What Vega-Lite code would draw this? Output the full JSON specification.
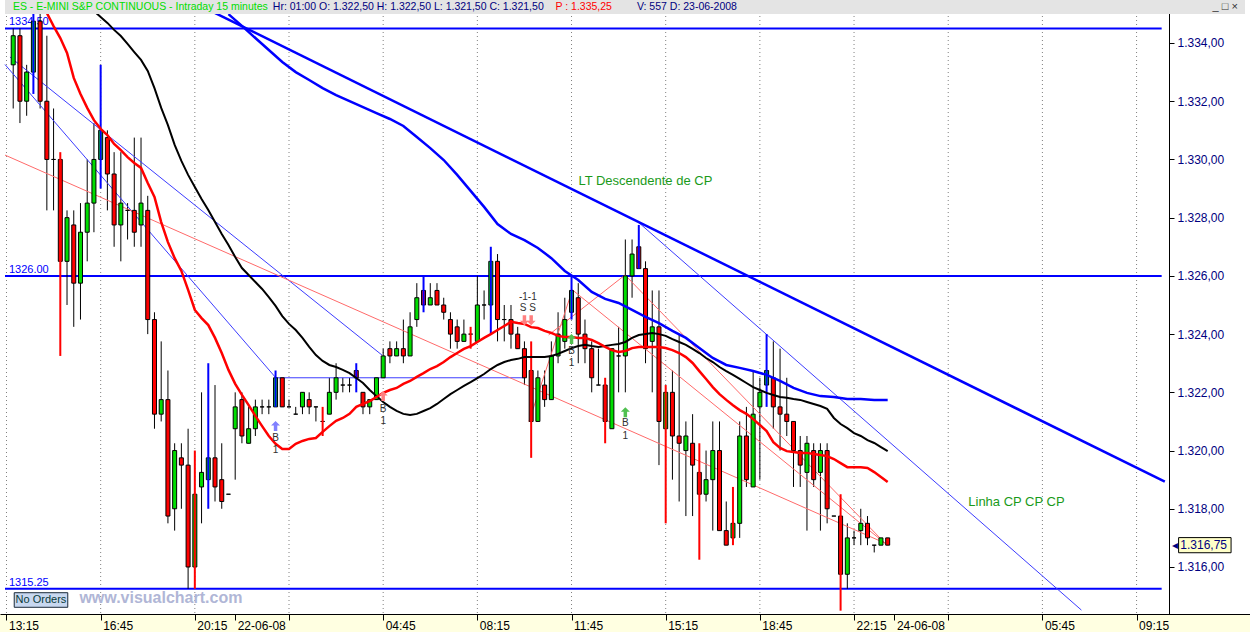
{
"$schema": "https://vega.github.io/schema/vega-lite/v6.json",
"width": 1250,
"height": 614,
"autosize": "none",
"padding": {"left": 0, "top": 0, "right": 0, "bottom": 18},
"background": "#ffffe1",
"config": {"view": {"stroke": null, "fill": "#ffffff"}, "font": "Liberation Sans"},
"resolve": {"axis": {"x": "independent", "y": "independent"}},
"datasets": {
"bars": [
{"i":0,"o":1333.25,"h":1334.5,"l":1331.75,"c":1334.25,"w":"n"},
{"i":1,"o":1334.25,"h":1334.5,"l":1331.25,"c":1332.0,"w":"n"},
{"i":2,"o":1332.0,"h":1333.25,"l":1331.5,"c":1333.0,"w":"n"},
{"i":3,"o":1333.0,"h":1335.25,"l":1332.25,"c":1334.75,"w":"b"},
{"i":4,"o":1334.75,"h":1335.25,"l":1331.75,"c":1332.0,"w":"n"},
{"i":5,"o":1332.0,"h":1334.25,"l":1328.25,"c":1330.0,"w":"n"},
{"i":6,"o":1330.0,"h":1331.75,"l":1328.25,"c":1330.0,"w":"n"},
{"i":7,"o":1330.0,"h":1330.25,"l":1323.25,"c":1326.5,"w":"r"},
{"i":8,"o":1326.5,"h":1328.25,"l":1325.0,"c":1328.0,"w":"n"},
{"i":9,"o":1327.75,"h":1328.25,"l":1324.25,"c":1325.75,"w":"n"},
{"i":10,"o":1325.75,"h":1328.5,"l":1324.5,"c":1327.5,"w":"n"},
{"i":11,"o":1327.5,"h":1330.0,"l":1326.5,"c":1328.5,"w":"n"},
{"i":12,"o":1328.5,"h":1331.25,"l":1327.5,"c":1330.0,"w":"n"},
{"i":13,"o":1330.0,"h":1333.25,"l":1329.0,"c":1331.0,"w":"b"},
{"i":14,"o":1330.75,"h":1331.0,"l":1328.25,"c":1329.5,"w":"n"},
{"i":15,"o":1329.5,"h":1330.25,"l":1327.0,"c":1327.75,"w":"n"},
{"i":16,"o":1327.75,"h":1330.25,"l":1326.5,"c":1328.5,"w":"n"},
{"i":17,"o":1328.25,"h":1328.5,"l":1327.25,"c":1328.25,"w":"n"},
{"i":18,"o":1328.25,"h":1330.75,"l":1327.0,"c":1327.5,"w":"n"},
{"i":19,"o":1327.75,"h":1330.75,"l":1327.0,"c":1328.5,"w":"n"},
{"i":20,"o":1328.25,"h":1328.75,"l":1324.0,"c":1324.5,"w":"n"},
{"i":21,"o":1324.5,"h":1324.75,"l":1320.75,"c":1321.25,"w":"n"},
{"i":22,"o":1321.25,"h":1323.75,"l":1321.0,"c":1321.75,"w":"n"},
{"i":23,"o":1321.75,"h":1322.75,"l":1317.5,"c":1317.75,"w":"n"},
{"i":24,"o":1318.0,"h":1320.25,"l":1317.25,"c":1320.0,"w":"n"},
{"i":25,"o":1319.75,"h":1320.25,"l":1318.0,"c":1319.5,"w":"n"},
{"i":26,"o":1319.5,"h":1320.75,"l":1315.25,"c":1316.0,"w":"n"},
{"i":27,"o":1316.0,"h":1320.0,"l":1315.25,"c":1318.5,"w":"r"},
{"i":28,"o":1318.75,"h":1322.0,"l":1317.5,"c":1319.25,"w":"n"},
{"i":29,"o":1319.0,"h":1323.0,"l":1318.0,"c":1319.75,"w":"b"},
{"i":30,"o":1319.75,"h":1322.25,"l":1318.25,"c":1318.75,"w":"n"},
{"i":31,"o":1319.0,"h":1320.25,"l":1318.0,"c":1318.25,"w":"n"},
{"i":32,"o":1318.5,"h":1318.5,"l":1318.5,"c":1318.5,"w":"n"},
{"i":33,"o":1320.75,"h":1322.0,"l":1319.0,"c":1321.5,"w":"n"},
{"i":34,"o":1321.75,"h":1322.0,"l":1320.25,"c":1320.5,"w":"n"},
{"i":35,"o":1320.25,"h":1321.5,"l":1320.25,"c":1320.75,"w":"n"},
{"i":36,"o":1320.75,"h":1321.75,"l":1320.5,"c":1321.5,"w":"n"},
{"i":37,"o":1321.5,"h":1321.75,"l":1321.25,"c":1321.5,"w":"n"},
{"i":38,"o":1321.5,"h":1321.75,"l":1321.25,"c":1321.5,"w":"n"},
{"i":39,"o":1321.5,"h":1322.75,"l":1321.5,"c":1322.5,"w":"b"},
{"i":40,"o":1322.5,"h":1322.5,"l":1321.5,"c":1321.5,"w":"n"},
{"i":41,"o":1321.5,"h":1321.75,"l":1321.5,"c":1321.5,"w":"n"},
{"i":42,"o":1321.25,"h":1321.5,"l":1321.25,"c":1321.25,"w":"n"},
{"i":43,"o":1321.5,"h":1322.0,"l":1321.25,"c":1322.0,"w":"n"},
{"i":44,"o":1321.75,"h":1322.0,"l":1321.25,"c":1321.5,"w":"n"},
{"i":45,"o":1321.5,"h":1321.5,"l":1321.0,"c":1321.5,"w":"n"},
{"i":46,"o":1321.0,"h":1321.5,"l":1320.5,"c":1321.0,"w":"r"},
{"i":47,"o":1321.25,"h":1322.5,"l":1321.25,"c":1322.0,"w":"n"},
{"i":48,"o":1322.0,"h":1323.0,"l":1321.75,"c":1322.5,"w":"n"},
{"i":49,"o":1322.25,"h":1322.5,"l":1322.0,"c":1322.25,"w":"n"},
{"i":50,"o":1322.25,"h":1322.5,"l":1322.0,"c":1322.25,"w":"n"},
{"i":51,"o":1322.75,"h":1323.0,"l":1322.0,"c":1322.5,"w":"b"},
{"i":52,"o":1322.0,"h":1322.0,"l":1321.25,"c":1321.5,"w":"n"},
{"i":53,"o":1321.5,"h":1321.75,"l":1321.25,"c":1321.75,"w":"n"},
{"i":54,"o":1321.75,"h":1322.5,"l":1321.75,"c":1322.5,"w":"n"},
{"i":55,"o":1322.5,"h":1323.5,"l":1322.5,"c":1323.25,"w":"n"},
{"i":56,"o":1323.5,"h":1323.75,"l":1323.0,"c":1323.25,"w":"n"},
{"i":57,"o":1323.25,"h":1323.75,"l":1323.25,"c":1323.5,"w":"n"},
{"i":58,"o":1323.5,"h":1324.5,"l":1323.0,"c":1323.25,"w":"n"},
{"i":59,"o":1323.25,"h":1324.75,"l":1323.25,"c":1324.25,"w":"n"},
{"i":60,"o":1324.5,"h":1325.75,"l":1324.25,"c":1325.25,"w":"n"},
{"i":61,"o":1325.5,"h":1326.0,"l":1324.75,"c":1325.0,"w":"b"},
{"i":62,"o":1325.0,"h":1325.75,"l":1325.0,"c":1325.25,"w":"n"},
{"i":63,"o":1325.5,"h":1325.75,"l":1325.0,"c":1325.0,"w":"n"},
{"i":64,"o":1325.0,"h":1325.25,"l":1324.5,"c":1324.75,"w":"n"},
{"i":65,"o":1324.5,"h":1324.75,"l":1323.5,"c":1324.0,"w":"n"},
{"i":66,"o":1324.25,"h":1324.5,"l":1323.5,"c":1323.75,"w":"n"},
{"i":67,"o":1323.75,"h":1324.5,"l":1323.75,"c":1324.0,"w":"n"},
{"i":68,"o":1324.0,"h":1324.25,"l":1323.5,"c":1324.0,"w":"r"},
{"i":69,"o":1323.75,"h":1326.0,"l":1323.75,"c":1325.0,"w":"n"},
{"i":70,"o":1325.0,"h":1325.5,"l":1324.5,"c":1325.0,"w":"n"},
{"i":71,"o":1325.0,"h":1327.0,"l":1324.0,"c":1326.5,"w":"b"},
{"i":72,"o":1326.5,"h":1326.75,"l":1323.75,"c":1324.5,"w":"n"},
{"i":73,"o":1324.5,"h":1325.0,"l":1323.75,"c":1324.5,"w":"n"},
{"i":74,"o":1324.5,"h":1325.0,"l":1323.5,"c":1324.0,"w":"n"},
{"i":75,"o":1324.0,"h":1324.25,"l":1323.5,"c":1323.5,"w":"n"},
{"i":76,"o":1323.5,"h":1323.75,"l":1322.25,"c":1322.5,"w":"n"},
{"i":77,"o":1322.75,"h":1323.75,"l":1319.75,"c":1321.0,"w":"r"},
{"i":78,"o":1321.0,"h":1322.75,"l":1321.0,"c":1322.5,"w":"n"},
{"i":79,"o":1322.25,"h":1322.75,"l":1321.5,"c":1321.75,"w":"n"},
{"i":80,"o":1321.75,"h":1323.75,"l":1321.75,"c":1323.25,"w":"n"},
{"i":81,"o":1323.25,"h":1324.75,"l":1323.0,"c":1324.0,"w":"n"},
{"i":82,"o":1323.75,"h":1325.25,"l":1323.5,"c":1324.5,"w":"n"},
{"i":83,"o":1324.75,"h":1326.0,"l":1324.5,"c":1325.5,"w":"b"},
{"i":84,"o":1325.25,"h":1325.75,"l":1323.0,"c":1324.0,"w":"n"},
{"i":85,"o":1324.0,"h":1324.5,"l":1323.0,"c":1323.5,"w":"n"},
{"i":86,"o":1323.5,"h":1323.75,"l":1322.0,"c":1322.5,"w":"n"},
{"i":87,"o":1322.25,"h":1323.5,"l":1322.25,"c":1322.25,"w":"n"},
{"i":88,"o":1322.25,"h":1322.5,"l":1320.25,"c":1321.0,"w":"r"},
{"i":89,"o":1320.75,"h":1323.5,"l":1320.75,"c":1323.5,"w":"n"},
{"i":90,"o":1323.25,"h":1324.25,"l":1322.0,"c":1323.25,"w":"n"},
{"i":91,"o":1323.25,"h":1327.25,"l":1322.0,"c":1326.0,"w":"n"},
{"i":92,"o":1326.0,"h":1327.25,"l":1325.25,"c":1326.75,"w":"n"},
{"i":93,"o":1327.0,"h":1327.75,"l":1326.25,"c":1326.25,"w":"b"},
{"i":94,"o":1326.25,"h":1326.5,"l":1323.0,"c":1323.5,"w":"n"},
{"i":95,"o":1323.75,"h":1325.5,"l":1322.0,"c":1324.25,"w":"n"},
{"i":96,"o":1324.25,"h":1325.5,"l":1319.5,"c":1321.0,"w":"n"},
{"i":97,"o":1320.75,"h":1322.25,"l":1317.5,"c":1322.0,"w":"r"},
{"i":98,"o":1322.0,"h":1322.75,"l":1319.0,"c":1320.5,"w":"n"},
{"i":99,"o":1320.5,"h":1324.0,"l":1318.25,"c":1320.25,"w":"n"},
{"i":100,"o":1320.0,"h":1321.0,"l":1317.75,"c":1320.5,"w":"n"},
{"i":101,"o":1320.25,"h":1321.25,"l":1317.75,"c":1319.5,"w":"n"},
{"i":102,"o":1319.25,"h":1320.25,"l":1316.25,"c":1318.5,"w":"r"},
{"i":103,"o":1318.5,"h":1320.0,"l":1318.25,"c":1319.0,"w":"n"},
{"i":104,"o":1319.0,"h":1321.0,"l":1317.25,"c":1320.0,"w":"n"},
{"i":105,"o":1320.0,"h":1321.0,"l":1317.25,"c":1317.25,"w":"n"},
{"i":106,"o":1317.25,"h":1318.25,"l":1316.75,"c":1316.75,"w":"n"},
{"i":107,"o":1317.0,"h":1318.75,"l":1316.75,"c":1317.5,"w":"r"},
{"i":108,"o":1317.5,"h":1321.0,"l":1317.0,"c":1320.5,"w":"n"},
{"i":109,"o":1320.5,"h":1321.5,"l":1318.75,"c":1319.0,"w":"n"},
{"i":110,"o":1318.75,"h":1322.75,"l":1318.75,"c":1321.25,"w":"n"},
{"i":111,"o":1321.5,"h":1322.5,"l":1319.0,"c":1322.0,"w":"n"},
{"i":112,"o":1322.25,"h":1324.0,"l":1321.5,"c":1322.75,"w":"b"},
{"i":113,"o":1322.5,"h":1323.75,"l":1320.75,"c":1321.5,"w":"n"},
{"i":114,"o":1321.5,"h":1323.5,"l":1320.0,"c":1321.25,"w":"n"},
{"i":115,"o":1321.25,"h":1322.5,"l":1320.5,"c":1321.0,"w":"n"},
{"i":116,"o":1321.0,"h":1321.0,"l":1318.75,"c":1320.0,"w":"n"},
{"i":117,"o":1320.0,"h":1320.5,"l":1318.75,"c":1319.5,"w":"n"},
{"i":118,"o":1319.25,"h":1320.5,"l":1317.25,"c":1320.25,"w":"n"},
{"i":119,"o":1320.0,"h":1320.25,"l":1318.75,"c":1319.0,"w":"n"},
{"i":120,"o":1319.25,"h":1320.25,"l":1317.25,"c":1320.0,"w":"n"},
{"i":121,"o":1320.0,"h":1320.25,"l":1317.5,"c":1318.0,"w":"n"},
{"i":122,"o":1317.75,"h":1317.75,"l":1317.75,"c":1317.75,"w":"n"},
{"i":123,"o":1317.75,"h":1318.5,"l":1314.5,"c":1315.75,"w":"r"},
{"i":124,"o":1315.75,"h":1317.5,"l":1315.25,"c":1317.0,"w":"n"},
{"i":125,"o":1317.0,"h":1317.25,"l":1316.75,"c":1317.0,"w":"n"},
{"i":126,"o":1317.25,"h":1318.0,"l":1316.75,"c":1317.5,"w":"n"},
{"i":127,"o":1317.5,"h":1317.75,"l":1316.75,"c":1317.0,"w":"n"},
{"i":128,"o":1316.75,"h":1316.75,"l":1316.5,"c":1316.75,"w":"n"},
{"i":129,"o":1316.75,"h":1317.0,"l":1316.75,"c":1317.0,"w":"n"},
{"i":130,"o":1317.0,"h":1317.0,"l":1316.75,"c":1316.75,"w":"n"}
],
"ma": [
{"i":5,"r":1335.03},{"i":6,"r":1334.58},{"i":7,"r":1334.17},{"i":8,"r":1333.66},{"i":9,"r":1332.8},{"i":10,"r":1332.25},
{"i":11,"r":1331.77},{"i":12,"r":1331.35,"k":1335.1},{"i":13,"r":1331.05,"k":1334.89},{"i":14,"r":1330.84,"k":1334.69},
{"i":15,"r":1330.53,"k":1334.45},{"i":16,"r":1330.32,"k":1334.24},{"i":17,"r":1330.08,"k":1333.97},{"i":18,"r":1329.88,"k":1333.69},
{"i":19,"r":1329.71,"k":1333.42},{"i":20,"r":1329.19,"k":1333.04},{"i":21,"r":1328.71,"k":1332.45},{"i":22,"r":1327.85,"k":1331.77},
{"i":23,"r":1327.16,"k":1331.18},{"i":24,"r":1326.61,"k":1330.5},{"i":25,"r":1326.17,"k":1329.95},{"i":26,"r":1325.52,"k":1329.47},
{"i":27,"r":1324.83,"k":1329.05},{"i":28,"r":1324.55,"k":1328.64},{"i":29,"r":1324.31,"k":1328.26},{"i":30,"r":1323.87,"k":1327.85},
{"i":31,"r":1323.35,"k":1327.44},{"i":32,"r":1322.77,"k":1327.06,"b":1334.99},{"i":33,"r":1322.29,"k":1326.65},
{"i":34,"r":1321.91,"k":1326.27,"b":1334.59},{"i":35,"r":1321.56,"k":1326.03},{"i":36,"r":1321.19,"k":1325.79,"b":1334.17},
{"i":37,"r":1320.84,"k":1325.55},{"i":38,"r":1320.5,"k":1325.27,"b":1333.76},{"i":39,"r":1320.23,"k":1324.97},
{"i":40,"r":1320.05,"k":1324.62,"b":1333.35},{"i":41,"r":1320.05,"k":1324.35},{"i":42,"r":1320.23,"k":1324.14,"b":1333.0},
{"i":43,"r":1320.33,"k":1323.87},{"i":44,"r":1320.4,"k":1323.56,"b":1332.73},{"i":45,"r":1320.43,"k":1323.28},
{"i":46,"r":1320.64,"k":1323.08,"b":1332.45},{"i":47,"r":1320.84,"k":1322.94},{"i":48,"r":1321.02,"k":1322.87,"b":1332.21},
{"i":49,"r":1321.12,"k":1322.77},{"i":50,"r":1321.26,"k":1322.66,"b":1332.0},{"i":51,"r":1321.5,"k":1322.49},
{"i":52,"r":1321.6,"k":1322.32,"b":1331.8},{"i":53,"r":1321.7,"k":1322.08},{"i":54,"r":1321.84,"k":1321.87,"b":1331.59},
{"i":55,"r":1321.98,"k":1321.67},{"i":56,"r":1322.08,"k":1321.5,"b":1331.39},{"i":57,"r":1322.15,"k":1321.36},
{"i":58,"r":1322.29,"k":1321.26,"b":1331.15},{"i":59,"r":1322.39,"k":1321.22},{"i":60,"r":1322.53,"k":1321.26,"b":1330.77},
{"i":61,"r":1322.66,"k":1321.36},{"i":62,"r":1322.8,"k":1321.46,"b":1330.39},{"i":63,"r":1322.9,"k":1321.6},
{"i":64,"r":1323.04,"k":1321.77,"b":1329.98},{"i":65,"r":1323.21,"k":1321.94},{"i":66,"r":1323.35,"k":1322.08,"b":1329.47},
{"i":67,"r":1323.49,"k":1322.22},{"i":68,"r":1323.59,"k":1322.35,"b":1328.92},{"i":69,"r":1323.73,"k":1322.49},
{"i":70,"r":1323.87,"k":1322.63,"b":1328.37},{"i":71,"r":1324.0,"k":1322.8},{"i":72,"r":1324.14,"k":1322.94,"b":1327.78},
{"i":73,"r":1324.28,"k":1323.04},{"i":74,"r":1324.42,"k":1323.11,"b":1327.44},{"i":75,"r":1324.38,"k":1323.15},
{"i":76,"r":1324.35,"k":1323.21,"b":1327.23},{"i":77,"r":1324.24,"k":1323.21},{"i":78,"r":1324.21,"k":1323.21,"b":1326.96},
{"i":79,"r":1324.11,"k":1323.21},{"i":80,"r":1324.04,"k":1323.25,"b":1326.61},{"i":81,"r":1323.94,"k":1323.32},
{"i":82,"r":1323.9,"k":1323.42,"b":1326.17},{"i":83,"r":1323.9,"k":1323.52},{"i":84,"r":1323.87,"k":1323.59,"b":1325.86},
{"i":85,"r":1323.87,"k":1323.63},{"i":86,"r":1323.8,"k":1323.59,"b":1325.45},{"i":87,"r":1323.69,"k":1323.56},
{"i":88,"r":1323.56,"k":1323.59,"b":1325.21},{"i":89,"r":1323.45,"k":1323.63},{"i":90,"r":1323.39,"k":1323.66,"b":1325.07},
{"i":91,"r":1323.42,"k":1323.73},{"i":92,"r":1323.52,"k":1323.87,"b":1324.83},{"i":93,"r":1323.56,"k":1323.97},
{"i":94,"r":1323.56,"k":1324.0,"b":1324.59},{"i":95,"r":1323.56,"k":1324.04},{"i":96,"r":1323.56,"k":1324.0,"b":1324.38},
{"i":97,"r":1323.52,"k":1323.94},{"i":98,"r":1323.45,"k":1323.83,"b":1324.11},{"i":99,"r":1323.35,"k":1323.73},
{"i":100,"r":1323.21,"k":1323.63,"b":1323.87},{"i":101,"r":1323.01,"k":1323.49},{"i":102,"r":1322.73,"k":1323.35,"b":1323.52},
{"i":103,"r":1322.46,"k":1323.18},{"i":104,"r":1322.18,"k":1323.04,"b":1323.18},{"i":105,"r":1321.94,"k":1322.87},
{"i":106,"r":1321.74,"k":1322.73,"b":1322.94},{"i":107,"r":1321.56,"k":1322.6},{"i":108,"r":1321.39,"k":1322.46,"b":1322.84},
{"i":109,"r":1321.26,"k":1322.32},{"i":110,"r":1321.08,"k":1322.18,"b":1322.73},{"i":111,"r":1320.88,"k":1322.08},
{"i":112,"r":1320.67,"k":1321.98,"b":1322.6},{"i":113,"r":1320.29,"k":1321.91},{"i":114,"r":1320.09,"k":1321.84,"b":1322.39},
{"i":115,"r":1319.98,"k":1321.81},{"i":116,"r":1319.95,"k":1321.77,"b":1322.15},{"i":117,"r":1319.92,"k":1321.74},
{"i":118,"r":1319.92,"k":1321.67,"b":1321.98},{"i":119,"r":1319.88,"k":1321.6},{"i":120,"r":1319.85,"k":1321.53,"b":1321.87},
{"i":121,"r":1319.81,"k":1321.43},{"i":122,"r":1319.71,"k":1321.12,"b":1321.84},{"i":123,"r":1319.57,"k":1320.91},
{"i":124,"r":1319.43,"k":1320.77,"b":1321.77},{"i":125,"r":1319.43,"k":1320.6},{"i":126,"r":1319.43,"k":1320.5,"b":1321.77},
{"i":127,"r":1319.4,"k":1320.36},{"i":128,"r":1319.26,"k":1320.26,"b":1321.74},{"i":129,"r":1319.09,"k":1320.12},
{"i":130,"r":1318.92,"k":1319.98,"b":1321.74}
],
"lines": [
{"id":"lt","i":28,"p":1335.26},{"id":"lt","i":171.2,"p":1318.93},
{"id":"ta","i":-0.48,"p":1333.52},{"id":"ta","i":54.82,"p":1323.28},
{"id":"tb","i":-1.22,"p":1333.26},{"id":"tb","i":39.04,"p":1322.5},{"id":"tb","i":75.9,"p":1322.5},
{"id":"tc","i":93,"p":1327.83},{"id":"tc","i":158.8,"p":1314.52},
{"id":"p1","i":-1.22,"p":1330.15},{"id":"p1","i":129.6,"p":1316.82},
{"id":"p2","i":90.95,"p":1326.03},{"id":"p2","i":129.6,"p":1316.82},
{"id":"p3","i":83.13,"p":1325.52},{"id":"p3","i":129.6,"p":1316.82},
{"id":"p4","i":76.65,"p":1320.98},{"id":"p4","i":83.13,"p":1325.52},
{"id":"p5","i":79.6,"p":1323.97},{"id":"p5","i":90.95,"p":1326.03}
],
"ticks": [{"i":-1},{"i":13},{"i":27},{"i":41},{"i":55},{"i":69},{"i":83},{"i":97},{"i":111},{"i":125},{"i":139},{"i":153},{"i":167}],
"levels": [
{"p":1334.5,"t":"1334.50"},{"p":1326.0,"t":"1326.00"},{"p":1315.25,"t":"1315.25"}
],
"arrows": [
{"i":39,"p":1320.84,"d":"up","k":"blue"},
{"i":55,"p":1321.87,"d":"up","k":"pink"},
{"i":83,"p":1323.83,"d":"up","k":"green"},
{"i":91,"p":1321.32,"d":"up","k":"green"},
{"i":76,"p":1324.48,"d":"down","k":"pink"},
{"i":77,"p":1324.48,"d":"down","k":"pink"}
],
"notes": [
{"k":"hg","t":"ES - E-MINI S&P CONTINUOUS - Intraday 15 minutes","i":-0.04,"p":1335.24},
{"k":"hn","t":"Hr: 01:00 O: 1.322,50 H: 1.322,50 L: 1.321,50 C: 1.321,50","i":38.6,"p":1335.24},
{"k":"hr","t":"P : 1.335,25","i":80.62,"p":1335.24},
{"k":"hn","t":"V: 557 D: 23-06-2008","i":92.72,"p":1335.24},
{"k":"win","t":"_ □ ×","i":178.3,"p":1335.24},
{"k":"lab","t":"LT Descendente de CP","i":84.02,"p":1329.26},
{"k":"lab","t":"Linha CP CP CP","i":141.98,"p":1318.23},
{"k":"sig","t":"B","i":39,"p":1320.44},{"k":"sig","t":"1","i":39,"p":1320.02},
{"k":"sig","t":"B","i":55,"p":1321.42},{"k":"sig","t":"1","i":55,"p":1321.03},
{"k":"sig","t":"B","i":83,"p":1323.43},{"k":"sig","t":"1","i":83,"p":1323.02},
{"k":"sig","t":"B","i":91,"p":1320.96},{"k":"sig","t":"1","i":91,"p":1320.5},
{"k":"sig","t":"-1-1","i":76.5,"p":1325.29},{"k":"sig","t":"S S","i":76.5,"p":1324.89},
{"k":"no","t":"No Orders","i":4.13,"p":1314.866},
{"k":"wm","t":"www.visualchart.com","i":9.84,"p":1314.92},
{"k":"px","t":"1.316,75","i":173.5,"p":1316.75},
{"k":"pxa","t":"◂","i":172.3,"p":1316.75}
],
"boxes": [
{"k":"hdr","i":-1.221,"i2":183.12,"p":1335.0,"p2":1335.477},
{"k":"no","i":0.15,"i2":8.11,"p":1315.117,"p2":1314.616},
{"k":"px","i":173.25,"i2":181.05,"p":1317.01,"p2":1316.49}
]
},
"layer": [
{
"data": {"name": "ticks"},
"mark": {"type": "rule", "color": "#808080", "strokeWidth": 1, "strokeDash": [1, 3]},
"encoding": {
"x": {"field": "i", "type": "quantitative", "scale": {"domain": [-1.221, 183.12], "nice": false, "zero": false},
"axis": {"orient": "bottom", "title": null, "grid": false, "values": [-1,13,27,33,41,55,69,83,97,111,125,131,139,153,167],
"labelExpr": "datum.value == -1 ? '13:15' : datum.value == 13 ? '16:45' : datum.value == 27 ? '20:15' : datum.value == 33 ? '22-06-08' : datum.value == 55 ? '04:45' : datum.value == 69 ? '08:15' : datum.value == 83 ? '11:45' : datum.value == 97 ? '15:15' : datum.value == 111 ? '18:45' : datum.value == 125 ? '22:15' : datum.value == 131 ? '24-06-08' : datum.value == 153 ? '05:45' : datum.value == 167 ? '09:15' : ''",
"labelAlign": "left", "labelOffset": 2, "labelPadding": 0, "labelFontSize": 12, "labelColor": "#000000",
"labelOverlap": false, "labelBound": false, "labelFlush": false,
"tickSize": 6, "tickColor": "#000000", "domainColor": "#000000"}}
}
},
{
"data": {"name": "levels"},
"mark": {"type": "rule", "color": "#0000ff", "strokeWidth": 2},
"encoding": {
"x": {"datum": -1.221, "type": "quantitative", "scale": {"domain": [-1.221, 183.12], "nice": false, "zero": false}, "axis": null},
"x2": {"datum": 170.73},
"y": {"field": "p", "type": "quantitative", "scale": {"domain": [1314.3855, 1335.477], "nice": false, "zero": false},
"axis": {"orient": "right", "offset": -81, "title": null, "grid": false, "values": [1316,1318,1320,1322,1324,1326,1328,1330,1332,1334],
"labelExpr": "replace(replace(replace(format(datum.value, ',.2f'), ',', '#'), '.', ','), '#', '.')",
"labelFontSize": 12, "labelColor": "#000080", "labelPadding": 3,
"tickSize": 5, "tickColor": "#000000", "domainColor": "#000000", "labelOverlap": false}}
}
},
{
"data": {"name": "levels"},
"mark": {"type": "text", "align": "left", "baseline": "alphabetic", "dy": -3, "fontSize": 11, "color": "#0000ff"},
"encoding": {
"x": {"datum": -0.63, "type": "quantitative", "scale": {"domain": [-1.221, 183.12], "nice": false, "zero": false}, "axis": null},
"y": {"field": "p", "type": "quantitative", "scale": {"domain": [1314.3855, 1335.477], "nice": false, "zero": false}, "axis": null},
"text": {"field": "t"}
}
},
{
"data": {"name": "bars"},
"transform": [{"filter": "datum.w == 'n'"}],
"mark": {"type": "rule", "color": "#000000", "strokeWidth": 1},
"encoding": {
"x": {"field": "i", "type": "quantitative", "scale": {"domain": [-1.221, 183.12], "nice": false, "zero": false}, "axis": null},
"y": {"field": "l", "type": "quantitative", "scale": {"domain": [1314.3855, 1335.477], "nice": false, "zero": false}, "axis": null},
"y2": {"field": "h"}
}
},
{
"data": {"name": "lines"},
"transform": [{"filter": "datum.id == 'ta' || datum.id == 'tb' || datum.id == 'tc'"}],
"mark": {"type": "line", "color": "#3c3cff", "strokeWidth": 1, "clip": true},
"encoding": {
"x": {"field": "i", "type": "quantitative", "scale": {"domain": [-1.221, 183.12], "nice": false, "zero": false}, "axis": null},
"y": {"field": "p", "type": "quantitative", "scale": {"domain": [1314.3855, 1335.477], "nice": false, "zero": false}, "axis": null},
"detail": {"field": "id"}
}
},
{
"data": {"name": "lines"},
"transform": [{"filter": "datum.id == 'p1' || datum.id == 'p2' || datum.id == 'p3' || datum.id == 'p4' || datum.id == 'p5'"}],
"mark": {"type": "line", "color": "#ff6a6a", "strokeWidth": 1, "clip": true},
"encoding": {
"x": {"field": "i", "type": "quantitative", "scale": {"domain": [-1.221, 183.12], "nice": false, "zero": false}, "axis": null},
"y": {"field": "p", "type": "quantitative", "scale": {"domain": [1314.3855, 1335.477], "nice": false, "zero": false}, "axis": null},
"detail": {"field": "id"}
}
},
{
"data": {"name": "bars"},
"transform": [{"filter": "datum.c >= datum.o"}],
"mark": {"type": "bar", "size": 4, "stroke": "#000000", "strokeWidth": 1, "fill": "#00dd00"},
"encoding": {
"x": {"field": "i", "type": "quantitative", "scale": {"domain": [-1.221, 183.12], "nice": false, "zero": false}, "axis": null},
"y": {"field": "o", "type": "quantitative", "scale": {"domain": [1314.3855, 1335.477], "nice": false, "zero": false}, "axis": null},
"y2": {"field": "c"}
}
},
{
"data": {"name": "bars"},
"transform": [{"filter": "datum.c < datum.o"}],
"mark": {"type": "bar", "size": 4, "stroke": "#000000", "strokeWidth": 1, "fill": "#ff0000"},
"encoding": {
"x": {"field": "i", "type": "quantitative", "scale": {"domain": [-1.221, 183.12], "nice": false, "zero": false}, "axis": null},
"y": {"field": "o", "type": "quantitative", "scale": {"domain": [1314.3855, 1335.477], "nice": false, "zero": false}, "axis": null},
"y2": {"field": "c"}
}
},
{
"data": {"name": "bars"},
"transform": [{"filter": "datum.w == 'b'"}],
"mark": {"type": "rule", "strokeWidth": 2, "color": "#0000ff"},
"encoding": {
"x": {"field": "i", "type": "quantitative", "scale": {"domain": [-1.221, 183.12], "nice": false, "zero": false}, "axis": null},
"y": {"field": "l", "type": "quantitative", "scale": {"domain": [1314.3855, 1335.477], "nice": false, "zero": false}, "axis": null},
"y2": {"field": "h"}
}
},
{
"data": {"name": "bars"},
"transform": [{"filter": "datum.w == 'r'"}],
"mark": {"type": "rule", "strokeWidth": 2, "color": "#ff0000"},
"encoding": {
"x": {"field": "i", "type": "quantitative", "scale": {"domain": [-1.221, 183.12], "nice": false, "zero": false}, "axis": null},
"y": {"field": "l", "type": "quantitative", "scale": {"domain": [1314.3855, 1335.477], "nice": false, "zero": false}, "axis": null},
"y2": {"field": "h"}
}
},
{
"data": {"name": "ma"},
"transform": [{"filter": "isValid(datum.b)"}],
"mark": {"type": "line", "color": "#0000ff", "strokeWidth": 2.5, "clip": true},
"encoding": {
"x": {"field": "i", "type": "quantitative", "scale": {"domain": [-1.221, 183.12], "nice": false, "zero": false}, "axis": null},
"y": {"field": "b", "type": "quantitative", "scale": {"domain": [1314.3855, 1335.477], "nice": false, "zero": false}, "axis": null}
}
},
{
"data": {"name": "ma"},
"transform": [{"filter": "isValid(datum.k)"}],
"mark": {"type": "line", "color": "#000000", "strokeWidth": 2, "clip": true},
"encoding": {
"x": {"field": "i", "type": "quantitative", "scale": {"domain": [-1.221, 183.12], "nice": false, "zero": false}, "axis": null},
"y": {"field": "k", "type": "quantitative", "scale": {"domain": [1314.3855, 1335.477], "nice": false, "zero": false}, "axis": null}
}
},
{
"data": {"name": "ma"},
"transform": [{"filter": "isValid(datum.r)"}],
"mark": {"type": "line", "color": "#ff0000", "strokeWidth": 2.5, "clip": true},
"encoding": {
"x": {"field": "i", "type": "quantitative", "scale": {"domain": [-1.221, 183.12], "nice": false, "zero": false}, "axis": null},
"y": {"field": "r", "type": "quantitative", "scale": {"domain": [1314.3855, 1335.477], "nice": false, "zero": false}, "axis": null}
}
},
{
"data": {"name": "lines"},
"transform": [{"filter": "datum.id == 'lt'"}],
"mark": {"type": "line", "color": "#0000ff", "strokeWidth": 2.5, "clip": true},
"encoding": {
"x": {"field": "i", "type": "quantitative", "scale": {"domain": [-1.221, 183.12], "nice": false, "zero": false}, "axis": null},
"y": {"field": "p", "type": "quantitative", "scale": {"domain": [1314.3855, 1335.477], "nice": false, "zero": false}, "axis": null}
}
},
{
"data": {"name": "arrows"},
"transform": [{"filter": "datum.k == 'blue'"}],
"mark": {"type": "point", "filled": true, "opacity": 1, "size": 100, "strokeWidth": 0, "color": "#8080ff", "shape": "M0,-1L0.9,-0.1L0.35,-0.1L0.35,1L-0.35,1L-0.35,-0.1L-0.9,-0.1Z"},
"encoding": {
"x": {"field": "i", "type": "quantitative", "scale": {"domain": [-1.221, 183.12], "nice": false, "zero": false}, "axis": null},
"y": {"field": "p", "type": "quantitative", "scale": {"domain": [1314.3855, 1335.477], "nice": false, "zero": false}, "axis": null}
}
},
{
"data": {"name": "arrows"},
"transform": [{"filter": "datum.k == 'green'"}],
"mark": {"type": "point", "filled": true, "opacity": 1, "size": 100, "strokeWidth": 0, "color": "#50c050", "shape": "M0,-1L0.9,-0.1L0.35,-0.1L0.35,1L-0.35,1L-0.35,-0.1L-0.9,-0.1Z"},
"encoding": {
"x": {"field": "i", "type": "quantitative", "scale": {"domain": [-1.221, 183.12], "nice": false, "zero": false}, "axis": null},
"y": {"field": "p", "type": "quantitative", "scale": {"domain": [1314.3855, 1335.477], "nice": false, "zero": false}, "axis": null}
}
},
{
"data": {"name": "arrows"},
"transform": [{"filter": "datum.k == 'pink' && datum.d == 'up'"}],
"mark": {"type": "point", "filled": true, "opacity": 1, "size": 100, "strokeWidth": 0, "color": "#ff8080", "shape": "M0,-1L0.9,-0.1L0.35,-0.1L0.35,1L-0.35,1L-0.35,-0.1L-0.9,-0.1Z"},
"encoding": {
"x": {"field": "i", "type": "quantitative", "scale": {"domain": [-1.221, 183.12], "nice": false, "zero": false}, "axis": null},
"y": {"field": "p", "type": "quantitative", "scale": {"domain": [1314.3855, 1335.477], "nice": false, "zero": false}, "axis": null}
}
},
{
"data": {"name": "arrows"},
"transform": [{"filter": "datum.k == 'pink' && datum.d == 'down'"}],
"mark": {"type": "point", "filled": true, "opacity": 1, "size": 100, "strokeWidth": 0, "color": "#ff8080", "shape": "M0,1L0.9,0.1L0.35,0.1L0.35,-1L-0.35,-1L-0.35,0.1L-0.9,0.1Z"},
"encoding": {
"x": {"field": "i", "type": "quantitative", "scale": {"domain": [-1.221, 183.12], "nice": false, "zero": false}, "axis": null},
"y": {"field": "p", "type": "quantitative", "scale": {"domain": [1314.3855, 1335.477], "nice": false, "zero": false}, "axis": null}
}
},
{
"data": {"name": "notes"},
"transform": [{"filter": "datum.k == 'sig'"}],
"mark": {"type": "text", "align": "center", "baseline": "middle", "fontSize": 10, "color": "#303030"},
"encoding": {
"x": {"field": "i", "type": "quantitative", "scale": {"domain": [-1.221, 183.12], "nice": false, "zero": false}, "axis": null},
"y": {"field": "p", "type": "quantitative", "scale": {"domain": [1314.3855, 1335.477], "nice": false, "zero": false}, "axis": null},
"text": {"field": "t"}
}
},
{
"data": {"name": "notes"},
"transform": [{"filter": "datum.k == 'lab'"}],
"mark": {"type": "text", "align": "left", "baseline": "middle", "fontSize": 13, "color": "#1a9a1a"},
"encoding": {
"x": {"field": "i", "type": "quantitative", "scale": {"domain": [-1.221, 183.12], "nice": false, "zero": false}, "axis": null},
"y": {"field": "p", "type": "quantitative", "scale": {"domain": [1314.3855, 1335.477], "nice": false, "zero": false}, "axis": null},
"text": {"field": "t"}
}
},
{
"data": {"name": "boxes"},
"transform": [{"filter": "datum.k == 'hdr'"}],
"mark": {"type": "rect", "fill": "#e4e4e4"},
"encoding": {
"x": {"field": "i", "type": "quantitative", "scale": {"domain": [-1.221, 183.12], "nice": false, "zero": false}, "axis": null},
"x2": {"field": "i2"},
"y": {"field": "p", "type": "quantitative", "scale": {"domain": [1314.3855, 1335.477], "nice": false, "zero": false}, "axis": null},
"y2": {"field": "p2"}
}
},
{
"data": {"name": "boxes"},
"transform": [{"filter": "datum.k == 'no'"}],
"mark": {"type": "rect", "fill": "#c8d8f0", "stroke": "#1a2a3a", "strokeWidth": 1},
"encoding": {
"x": {"field": "i", "type": "quantitative", "scale": {"domain": [-1.221, 183.12], "nice": false, "zero": false}, "axis": null},
"x2": {"field": "i2"},
"y": {"field": "p", "type": "quantitative", "scale": {"domain": [1314.3855, 1335.477], "nice": false, "zero": false}, "axis": null},
"y2": {"field": "p2"}
}
},
{
"data": {"name": "boxes"},
"transform": [{"filter": "datum.k == 'px'"}],
"mark": {"type": "rect", "fill": "#ffffc8", "stroke": "#000000", "strokeWidth": 1},
"encoding": {
"x": {"field": "i", "type": "quantitative", "scale": {"domain": [-1.221, 183.12], "nice": false, "zero": false}, "axis": null},
"x2": {"field": "i2"},
"y": {"field": "p", "type": "quantitative", "scale": {"domain": [1314.3855, 1335.477], "nice": false, "zero": false}, "axis": null},
"y2": {"field": "p2"}
}
},
{
"data": {"name": "notes"},
"transform": [{"filter": "datum.k == 'hg'"}],
"mark": {"type": "text", "align": "left", "baseline": "middle", "fontSize": 10.5, "color": "#00dd00"},
"encoding": {
"x": {"field": "i", "type": "quantitative", "scale": {"domain": [-1.221, 183.12], "nice": false, "zero": false}, "axis": null},
"y": {"field": "p", "type": "quantitative", "scale": {"domain": [1314.3855, 1335.477], "nice": false, "zero": false}, "axis": null},
"text": {"field": "t"}
}
},
{
"data": {"name": "notes"},
"transform": [{"filter": "datum.k == 'hn'"}],
"mark": {"type": "text", "align": "left", "baseline": "middle", "fontSize": 10.5, "color": "#000080"},
"encoding": {
"x": {"field": "i", "type": "quantitative", "scale": {"domain": [-1.221, 183.12], "nice": false, "zero": false}, "axis": null},
"y": {"field": "p", "type": "quantitative", "scale": {"domain": [1314.3855, 1335.477], "nice": false, "zero": false}, "axis": null},
"text": {"field": "t"}
}
},
{
"data": {"name": "notes"},
"transform": [{"filter": "datum.k == 'hr'"}],
"mark": {"type": "text", "align": "left", "baseline": "middle", "fontSize": 10.5, "color": "#ff0000"},
"encoding": {
"x": {"field": "i", "type": "quantitative", "scale": {"domain": [-1.221, 183.12], "nice": false, "zero": false}, "axis": null},
"y": {"field": "p", "type": "quantitative", "scale": {"domain": [1314.3855, 1335.477], "nice": false, "zero": false}, "axis": null},
"text": {"field": "t"}
}
},
{
"data": {"name": "notes"},
"transform": [{"filter": "datum.k == 'win'"}],
"mark": {"type": "text", "align": "left", "baseline": "middle", "fontSize": 11, "color": "#303030"},
"encoding": {
"x": {"field": "i", "type": "quantitative", "scale": {"domain": [-1.221, 183.12], "nice": false, "zero": false}, "axis": null},
"y": {"field": "p", "type": "quantitative", "scale": {"domain": [1314.3855, 1335.477], "nice": false, "zero": false}, "axis": null},
"text": {"field": "t"}
}
},
{
"data": {"name": "notes"},
"transform": [{"filter": "datum.k == 'no'"}],
"mark": {"type": "text", "align": "center", "baseline": "middle", "fontSize": 11, "color": "#0b3b3b"},
"encoding": {
"x": {"field": "i", "type": "quantitative", "scale": {"domain": [-1.221, 183.12], "nice": false, "zero": false}, "axis": null},
"y": {"field": "p", "type": "quantitative", "scale": {"domain": [1314.3855, 1335.477], "nice": false, "zero": false}, "axis": null},
"text": {"field": "t"}
}
},
{
"data": {"name": "notes"},
"transform": [{"filter": "datum.k == 'wm'"}],
"mark": {"type": "text", "align": "left", "baseline": "middle", "fontSize": 16, "fontWeight": "bold", "color": "#b0b6d6"},
"encoding": {
"x": {"field": "i", "type": "quantitative", "scale": {"domain": [-1.221, 183.12], "nice": false, "zero": false}, "axis": null},
"y": {"field": "p", "type": "quantitative", "scale": {"domain": [1314.3855, 1335.477], "nice": false, "zero": false}, "axis": null},
"text": {"field": "t"}
}
},
{
"data": {"name": "notes"},
"transform": [{"filter": "datum.k == 'px' || datum.k == 'pxa'"}],
"mark": {"type": "text", "align": "left", "baseline": "middle", "fontSize": 12, "color": "#000080"},
"encoding": {
"x": {"field": "i", "type": "quantitative", "scale": {"domain": [-1.221, 183.12], "nice": false, "zero": false}, "axis": null},
"y": {"field": "p", "type": "quantitative", "scale": {"domain": [1314.3855, 1335.477], "nice": false, "zero": false}, "axis": null},
"text": {"field": "t"}
}
}
]
}
